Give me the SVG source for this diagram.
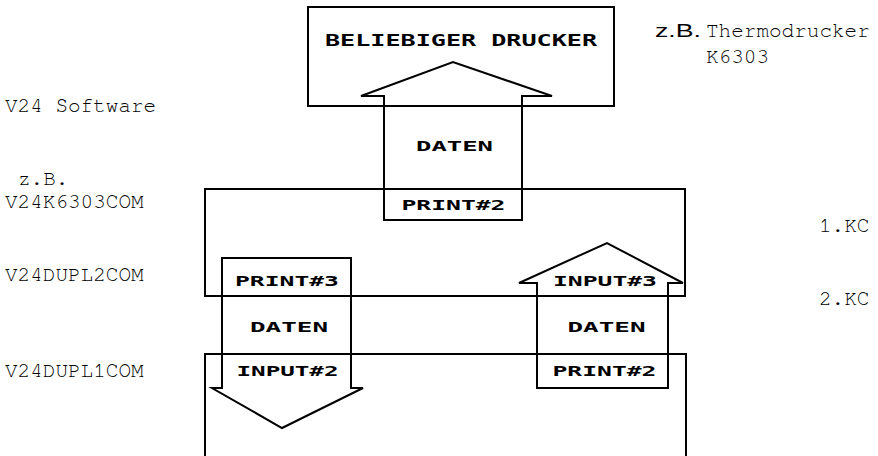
<svg xmlns="http://www.w3.org/2000/svg" width="878" height="456" viewBox="0 0 878 456">
<style>
.box{fill:none;stroke:#000;stroke-width:2}
.arrow{fill:none;stroke:#000;stroke-width:2;stroke-linejoin:miter}
.px{font-family:"DejaVu Sans Mono",monospace;font-weight:bold;font-size:14px;fill:#000}
.big{font-size:16px}
.mono{font-family:"Nimbus Mono PS","Nimbus Mono L","FreeMono","Courier New","Liberation Mono",monospace;font-size:21px;fill:#000}
.sans{font-family:"Liberation Sans",Arial,sans-serif;font-size:19px;fill:#000}
</style>
<rect width="878" height="456" fill="#fff"/>
<g id="labels-left">
<text class="mono" x="5" y="112">V24 Software</text>
<text class="mono" x="18" y="185">z.B.</text>
<text class="mono" x="5" y="208">V24K6303COM</text>
<text class="mono" x="5" y="281">V24DUPL2COM</text>
<text class="mono" x="5" y="377">V24DUPL1COM</text>
</g>
<g id="labels-right">
<text class="sans" x="655" y="37" textLength="46" lengthAdjust="spacingAndGlyphs">z.B.</text>
<text class="mono" x="706" y="37">Thermodrucker</text>
<text class="mono" x="706" y="63">K6303</text>
<text class="mono" x="819" y="232">1.KC</text>
<text class="mono" x="819" y="305">2.KC</text>
</g>
<g id="printer">
<rect class="box" x="308" y="7" width="306" height="99"/>
<text class="px big" x="325" y="46" textLength="272" lengthAdjust="spacingAndGlyphs">BELIEBIGER DRUCKER</text>
</g>
<g id="kc1">
<rect class="box" x="205" y="189" width="480" height="107"/>
</g>
<g id="kc2">
<rect class="box" x="205" y="354" width="481" height="110"/>
</g>
<g id="connectors">
<g id="arrow-top">
<polygon class="arrow" points="384,220 384,96 361,96 453,62 552,96 522,96 522,220"/>
<text class="px" x="416" y="151" textLength="77" lengthAdjust="spacingAndGlyphs">DATEN</text>
<text class="px" x="401.5" y="210" textLength="104" lengthAdjust="spacingAndGlyphs">PRINT#2</text>
</g>
<g id="arrow-down">
<polygon class="arrow" points="222,258 351,258 351,388 363,388 282,428 212,388 222,388"/>
<text class="px" x="235" y="286" textLength="104" lengthAdjust="spacingAndGlyphs">PRINT#3</text>
<text class="px" x="250" y="332" textLength="78" lengthAdjust="spacingAndGlyphs">DATEN</text>
<text class="px" x="236.5" y="376" textLength="102" lengthAdjust="spacingAndGlyphs">INPUT#2</text>
</g>
<g id="arrow-up">
<polygon class="arrow" points="537,388 537,283 519,283 607,243 683,283 668,283 668,388"/>
<text class="px" x="553" y="286" textLength="104" lengthAdjust="spacingAndGlyphs">INPUT#3</text>
<text class="px" x="567.5" y="332" textLength="78" lengthAdjust="spacingAndGlyphs">DATEN</text>
<text class="px" x="552.5" y="376" textLength="104" lengthAdjust="spacingAndGlyphs">PRINT#2</text>
</g>
</g>
</svg>
